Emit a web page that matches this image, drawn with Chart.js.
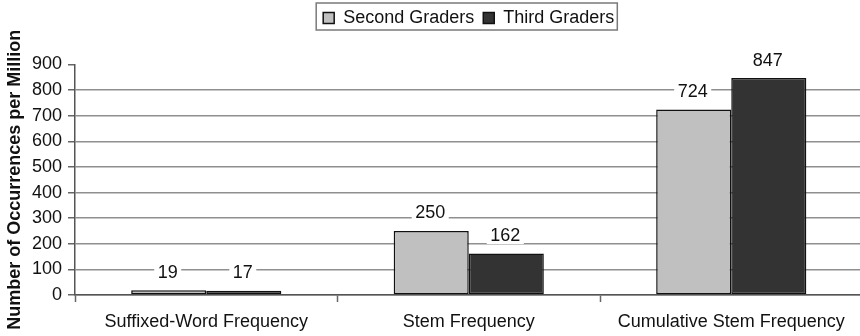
<!DOCTYPE html>
<html>
<head>
<meta charset="utf-8">
<script src="https://cdn.jsdelivr.net/npm/chart.js@4.4.1/dist/chart.umd.min.js"></script>
<style>
  html, body { margin: 0; padding: 0; background: #fff; overflow: hidden; }
  #wrap { width: 864px; height: 336px; }
</style>
</head>
<body>
<div id="wrap"><canvas id="c" width="864" height="336"></canvas></div>
<script>
// Word-frequency measures by grade
const categories = ['Suffixed-Word Frequency', 'Stem Frequency', 'Cumulative Stem Frequency'];
const secondGraders = [19, 250, 724];
const thirdGraders = [17, 162, 847];
const seriesNames = ['Second Graders', 'Third Graders'];
const yTicks = [0, 100, 200, 300, 400, 500, 600, 700, 800, 900];
const yTitle = 'Number of Occurrences per Million';

const FONT = "'Liberation Sans', Arial, sans-serif";
const INK = '#111111';

// White-backed value labels above each bar
const valueLabels = {
  id: 'valueLabels',
  afterDatasetsDraw(chart) {
    const ctx = chart.ctx;
    ctx.save();
    ctx.font = '18px ' + FONT;
    ctx.textAlign = 'center';
    ctx.textBaseline = 'middle';
    chart.data.datasets.forEach((ds, di) => {
      const meta = chart.getDatasetMeta(di);
      meta.data.forEach((bar, i) => {
        const txt = String(ds.data[i]);
        const w = ctx.measureText(txt).width;
        const cx = bar.x - 1;
        const cy = bar.y - 18.5;
        ctx.fillStyle = '#ffffff';
        ctx.fillRect(cx - w / 2 - 3.5, cy - 9, w + 7, 18);
        ctx.fillStyle = INK;
        ctx.fillText(txt, cx, cy + 1);
      });
    });
    ctx.restore();
  }
};

// Frame around the legend
const legendFrame = {
  id: 'legendFrame',
  afterDraw(chart) {
    const lg = chart.legend;
    if (!lg || !lg.legendHitBoxes || !lg.legendHitBoxes.length) return;
    const boxes = lg.legendHitBoxes;
    const first = boxes[0];
    const last = boxes[boxes.length - 1];
    const ctx = chart.ctx;
    ctx.save();
    ctx.strokeStyle = '#7a7a7a';
    ctx.lineWidth = 1.5;
    const x0 = first.left - 7;
    const x1 = last.left + last.width + 3;
    ctx.strokeRect(x0, 3, x1 - x0, 27);
    ctx.restore();
  }
};

new Chart(document.getElementById('c'), {
  type: 'bar',
  data: {
    labels: categories,
    datasets: [
      {
        label: seriesNames[0],
        data: secondGraders,
        xAxisID: 'x',
        yAxisID: 'y',
        backgroundColor: '#c0c0c0',
        borderColor: INK,
        borderWidth: 1.5,
        borderSkipped: false
      },
      {
        label: seriesNames[1],
        data: thirdGraders,
        xAxisID: 'x',
        yAxisID: 'y',
        backgroundColor: '#333333',
        borderColor: INK,
        borderWidth: 1.5,
        borderSkipped: false
      }
    ]
  },
  options: {
    responsive: false,
    animation: false,
    devicePixelRatio: 1,
    categoryPercentage: 0.572,
    barPercentage: 1,
    layout: { padding: { left: 0, right: 1.5, top: 0, bottom: 0 } },
    plugins: {
      tooltip: { enabled: false },
      legend: {
        position: 'top',
        fullSize: false,
        labels: {
          font: { family: FONT, size: 18 },
          color: INK,
          boxWidth: 11,
          boxHeight: 11,
          padding: 9,
          generateLabels(chart) {
            return chart.data.datasets.map((ds, i) => ({
              text: ds.label,
              fillStyle: ds.backgroundColor,
              strokeStyle: INK,
              lineWidth: 1.5,
              datasetIndex: i,
              hidden: false,
              fontColor: INK
            }));
          }
        }
      }
    },
    scales: {
      x: {
        position: 'bottom',
        grid: {
          display: true,
          offset: true,
          drawOnChartArea: false,
          drawTicks: true,
          tickLength: 7,
          tickColor: '#666666',
          tickWidth: 1.5
        },
        border: { display: true, color: '#555555', width: 1.5 },
        ticks: {
          font: { family: FONT, size: 18 },
          color: INK,
          padding: 9,
          maxRotation: 0,
          autoSkip: false
        },
        afterFit(s) { s.height = 41; }
      },
      y: {
        min: 0,
        max: 900,
        afterBuildTicks(s) { s.ticks = yTicks.map(v => ({ value: v })); },
        grid: {
          color: (c) => (c.tick && c.tick.value === 900) ? 'rgba(0,0,0,0)' : '#8f8f8f',
          lineWidth: 1.5,
          drawTicks: true,
          tickLength: 7,
          tickColor: '#666666',
          tickWidth: 1.5
        },
        border: { display: true, color: '#555555', width: 1.5 },
        ticks: {
          font: { family: FONT, size: 18 },
          color: INK,
          padding: 6
        },
        title: {
          display: true,
          text: yTitle,
          font: { family: FONT, size: 18, weight: 'bold' },
          color: INK,
          padding: { top: 4, bottom: 0 }
        },
        afterFit(s) { s.width = 75; }
      },
      // empty band between the legend and the plot area
      spacer: {
        type: 'category',
        position: 'top',
        labels: [''],
        grid: { display: false },
        border: { display: false },
        ticks: { display: false },
        afterFit(s) { s.height = 27.5; }
      }
    }
  },
  plugins: [valueLabels, legendFrame]
});
</script>
</body>
</html>
